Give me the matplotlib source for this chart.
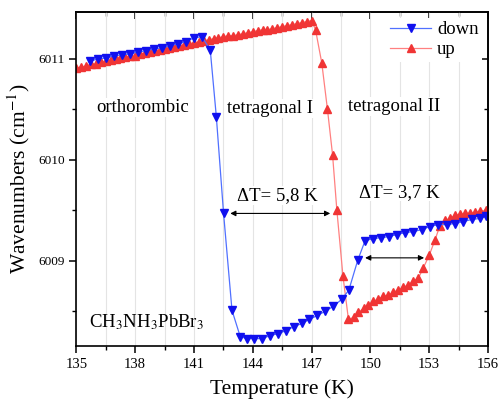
import matplotlib
matplotlib.use("Agg")
import matplotlib.pyplot as plt
from matplotlib.ticker import MultipleLocator

plt.rcParams['font.family'] = ['Liberation Serif', 'DejaVu Serif']
plt.rcParams['mathtext.fontset'] = 'stix'

# cooling run ("down")
t_down = [135.71, 136.12, 136.52, 136.93, 137.34, 137.74, 138.15, 138.56, 138.96,
          139.37, 139.78, 140.18, 140.59, 141.00, 141.41, 141.83, 142.14, 142.51,
          142.94, 143.36, 143.70, 144.04, 144.46, 144.89, 145.31, 145.70, 146.11,
          146.50, 146.89, 147.30, 147.69, 148.11, 148.54, 148.90, 149.36, 149.73,
          150.12, 150.53, 150.94, 151.34, 151.77, 152.19, 152.62, 153.04, 153.47,
          153.89, 154.32, 154.74, 155.17, 155.59, 155.90]
w_down = [6010.98, 6011.00, 6011.01, 6011.03, 6011.04, 6011.05, 6011.07, 6011.08, 6011.10,
          6011.11, 6011.13, 6011.15, 6011.17, 6011.21, 6011.22, 6011.09, 6010.43, 6009.47,
          6008.51, 6008.25, 6008.23, 6008.23, 6008.23, 6008.26, 6008.28, 6008.31, 6008.35,
          6008.38, 6008.42, 6008.46, 6008.50, 6008.55, 6008.62, 6008.71, 6009.01, 6009.20,
          6009.22, 6009.23, 6009.24, 6009.26, 6009.28, 6009.29, 6009.31, 6009.34, 6009.36,
          6009.36, 6009.37, 6009.39, 6009.41, 6009.42, 6009.44]

# heating run ("up")
t_up = [135.00, 135.25, 135.50, 135.75, 136.00, 136.25, 136.50, 136.75, 137.00, 137.25,
        137.50, 137.75, 138.00, 138.25, 138.50, 138.75, 139.00, 139.25, 139.50, 139.75,
        140.00, 140.25, 140.50, 140.75, 141.00, 141.25, 141.50, 141.75, 142.00, 142.25,
        142.50, 142.75, 143.00, 143.25, 143.50, 143.75, 144.00, 144.25, 144.50, 144.75,
        145.00, 145.25, 145.50, 145.75, 146.00, 146.25, 146.50, 146.75, 147.00,
        147.20, 147.52, 147.81, 148.07, 148.29, 148.60, 148.88,
        149.14, 149.39, 149.65, 149.90, 150.15, 150.41, 150.66, 150.92, 151.17, 151.43,
        151.68, 151.94, 152.19, 152.45, 152.70, 153.01, 153.30, 153.55, 153.81, 154.06,
        154.32, 154.57, 154.83, 155.08, 155.34, 155.59, 155.90]
w_up = [6010.91, 6010.92, 6010.93, 6010.95, 6010.95, 6010.97, 6010.98, 6010.99, 6011.00, 6011.01,
        6011.02, 6011.03, 6011.03, 6011.05, 6011.06, 6011.07, 6011.08, 6011.09, 6011.10, 6011.11,
        6011.12, 6011.13, 6011.14, 6011.15, 6011.16, 6011.17, 6011.18, 6011.19, 6011.20, 6011.21,
        6011.22, 6011.23, 6011.23, 6011.24, 6011.25, 6011.26, 6011.27, 6011.28, 6011.29, 6011.29,
        6011.30, 6011.31, 6011.32, 6011.33, 6011.34, 6011.35, 6011.36, 6011.37, 6011.38,
        6011.29, 6010.96, 6010.50, 6010.05, 6009.50, 6008.85, 6008.42,
        6008.44, 6008.49, 6008.53, 6008.56, 6008.60, 6008.62, 6008.65, 6008.66, 6008.69, 6008.71,
        6008.74, 6008.76, 6008.80, 6008.83, 6008.93, 6009.06, 6009.21, 6009.35, 6009.40, 6009.42,
        6009.45, 6009.46, 6009.47, 6009.47, 6009.48, 6009.49, 6009.50]

phases = ['orthorombic', 'tetragonal I', 'tetragonal II']
phase_pos = [(138.4, 6010.52), (144.9, 6010.51), (151.2, 6010.53)]

# hysteresis widths: label text, label position, arrow (x from, x to, y)
hyst_labels = ['ΔT= 5,8 K', 'ΔT= 3,7 K']
hyst_label_pos = [(145.25, 6009.65), (151.5, 6009.68)]
hyst_arrows = [(142.85, 147.95, 6009.47), (149.73, 152.74, 6009.03)]

fig = plt.figure(figsize=(4.99, 4.0), dpi=100)
ax = fig.add_axes([0.153, 0.134, 0.825, 0.836])

ax.grid(True, axis='x', which='both', color='#e4e4e4', lw=0.8)
ax.set_axisbelow(True)

l_up, = ax.plot(t_up, w_up, color='#ff8080', lw=0.9, marker='^', ms=5.8,
                mfc='#f03535', mec='#f03535', label='up')
l_down, = ax.plot(t_down, w_down, color='#5070ff', lw=0.9, marker='v', ms=5.8,
                  mfc='#1010ee', mec='#1010ee', label='down')

for name, (x, y) in zip(phases, phase_pos):
    ax.text(x, y, name, fontsize=13.5, ha='center', va='center',
            bbox=dict(fc='white', ec='none', pad=1))

for (x0, x1, y), lab, (lx, ly) in zip(hyst_arrows, hyst_labels, hyst_label_pos):
    ax.annotate('', xy=(x0, y), xytext=(x1, y),
                arrowprops=dict(arrowstyle='<|-|>', color='black', lw=0.8,
                                mutation_scale=8, shrinkA=0, shrinkB=0))
    ax.text(lx, ly, lab, fontsize=13.5, ha='center', va='center',
            bbox=dict(fc='white', ec='none', pad=0.5))

ax.text(138.57, 6008.39, r'CH$_3$NH$_3$PbBr$_3$', fontsize=13.5, ha='center', va='center')

ax.set_xlim(135, 156)
ax.set_ylim(6008.153, 6011.465)
ax.xaxis.set_major_locator(MultipleLocator(3))
ax.xaxis.set_minor_locator(MultipleLocator(1.5))
ax.yaxis.set_major_locator(MultipleLocator(1))
ax.yaxis.set_minor_locator(MultipleLocator(0.5))
ax.ticklabel_format(axis='y', useOffset=False)
ax.tick_params(axis='both', which='major', direction='out', length=5, width=1.1)
ax.tick_params(axis='both', which='minor', direction='out', length=3, width=1.0)
ax.tick_params(axis='x', labelsize=10.5)
ax.tick_params(axis='y', labelsize=9.5)

# top and right: ticks inside, no labels
top = ax.secondary_xaxis('top')
top.xaxis.set_major_locator(MultipleLocator(3))
top.xaxis.set_minor_locator(MultipleLocator(1.5))
top.tick_params(which='major', direction='in', length=5, width=1.1, labeltop=False)
top.tick_params(which='minor', direction='in', length=3, width=1.0)
right = ax.secondary_yaxis('right')
right.yaxis.set_major_locator(MultipleLocator(1))
right.yaxis.set_minor_locator(MultipleLocator(0.5))
right.tick_params(which='major', direction='in', length=5, width=1.1, labelright=False)
right.tick_params(which='minor', direction='in', length=3, width=1.0)

for s in list(ax.spines.values()) + [top.spines['top'], right.spines['right']]:
    s.set_linewidth(1.2)

ax.set_xlabel('Temperature (K)', fontsize=15.5, labelpad=6)
ax.set_ylabel('Wavenumbers (cm$^{-1}$)', fontsize=15.5, labelpad=4)

ax.legend(handles=[l_down, l_up], loc='upper right', frameon=True, fancybox=False,
          edgecolor='none', facecolor='white', framealpha=1, fontsize=13.5,
          handlelength=2.2, handletextpad=0.3, borderpad=0.2, labelspacing=0.15,
          borderaxespad=0.3)

fig.savefig('out.png', dpi=100)
